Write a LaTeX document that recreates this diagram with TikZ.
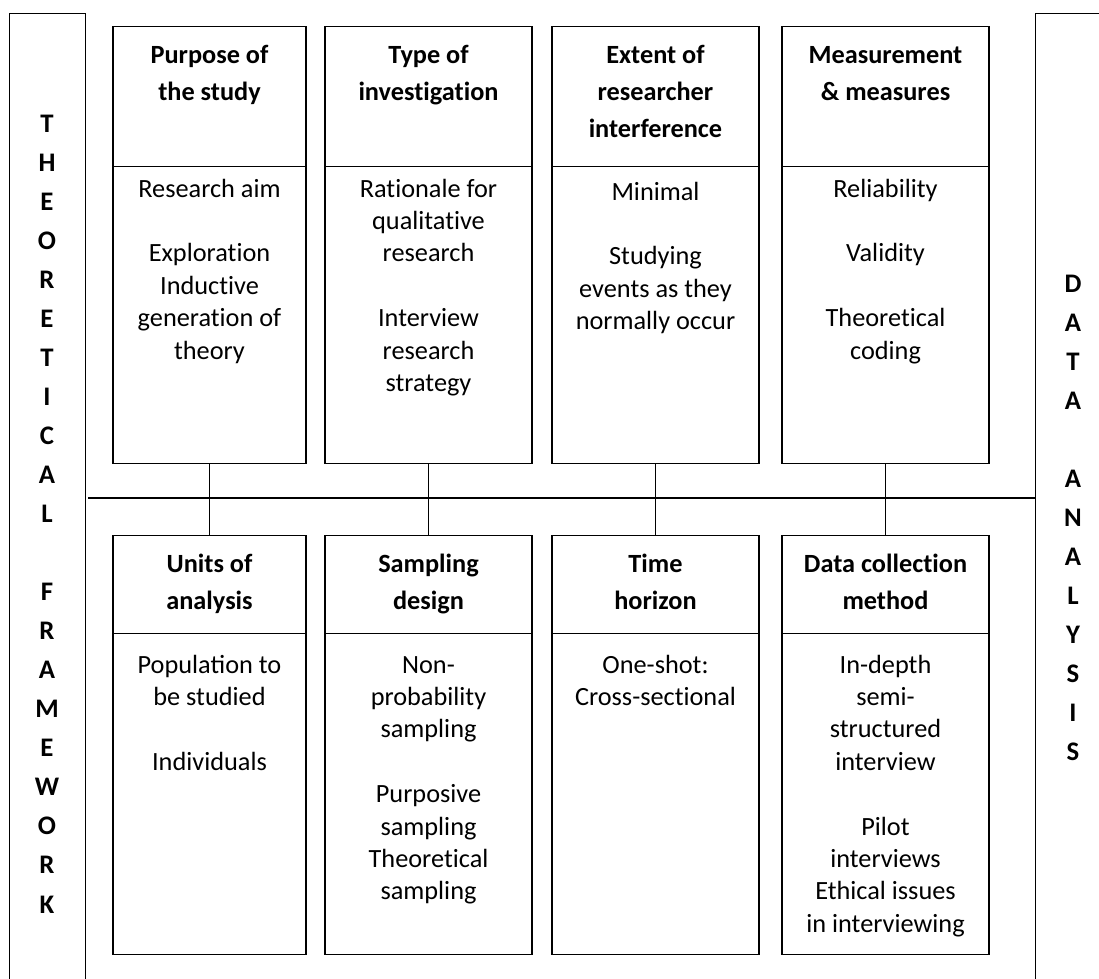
\documentclass[tikz,border=0pt]{standalone}
\usepackage{fontspec}
\setmainfont{Carlito}
% centred multi-line block whose baseline is the first line
\newcommand\stacklines[1]{\begin{tabular}[t]{@{}c@{}}#1\end{tabular}}
% t and i kept as two separate glyphs
\newcommand\tIx{t\kern0pt i}
\tikzset{
  frame/.style={draw, line width=1.4pt, inner sep=0pt},
  conn/.style={line width=1.4pt},
  headtxt/.style={anchor=base, inner sep=0pt, font=\fontsize{26.3}{37}\selectfont\bfseries},
  bodytxt/.style={anchor=base, inner sep=0pt, font=\fontsize{26.3}{32.4}\selectfont},
  sidetxt/.style={anchor=base, inner sep=0pt, font=\fontsize{26.8}{39.05}\selectfont\bfseries}
}
\begin{document}
\begin{tikzpicture}[x=1pt, y=-1pt]
\useasboundingbox (0,0) rectangle (1099,978);
\clip (0,0) rectangle (1099,978);

% side panels
\node[frame, anchor=north west, minimum width=76pt, minimum height=1000pt] (tf) at (9,13) {};
\node[frame, anchor=north west, minimum width=76pt, minimum height=1000pt] (da) at (1035,13) {};
\node[sidetxt] (tftxt) at (47,132) {\stacklines{T\\H\\E\\O\\R\\E\\T\\I\\C\\A\\L\\ \\F\\R\\A\\M\\E\\W\\O\\R\\K}};
\node[sidetxt] (datxt) at (1073,292) {\stacklines{D\\A\\T\\A\\ \\A\\N\\A\\L\\Y\\S\\I\\S}};

% boxes: header and body for the upper and lower rows
\foreach \c/\w [count=\i] in {209.5/193, 428.5/207, 655.5/207, 885.5/207} {
  \node[frame, anchor=north, minimum width=\w pt, minimum height=140pt] (th\i) at (\c,26) {};
  \node[frame, anchor=north, minimum width=\w pt, minimum height=297pt] (tb\i) at (\c,166) {};
  \node[frame, anchor=north, minimum width=\w pt, minimum height=98pt] (bh\i) at (\c,535) {};
  \node[frame, anchor=north, minimum width=\w pt, minimum height=321pt] (bb\i) at (\c,633) {};
}

% spine line and the links between the two rows
\coordinate (hl) at (88,498);
\draw[conn] (hl) -- (hl -| da.west);
\foreach \i in {1,...,4} {
  \draw[conn] (tb\i.south) -- (bh\i.north);
}

% upper row texts
\node[headtxt] (tht1) at (209.5,63) {\stacklines{Purpose of\\the study}};
\node[headtxt] (tht2) at (428.5,63) {\stacklines{Type of\\inves\tIx ga\tIx on}};
\node[headtxt] (tht3) at (655.5,63) {\stacklines{Extent of\\researcher\\interference}};
\node[headtxt] (tht4) at (885.5,63) {\stacklines{Measurement\\\& measures}};
\node[bodytxt] (tbt1) at (209.5,197) {\stacklines{Research aim\\ \\Explora\tIx on\\Induc\tIx ve\\genera\tIx on of\\theory}};
\node[bodytxt] (tbt2) at (428.5,197) {\stacklines{Ra\tIx onale for\\qualita\tIx ve\\research\\ \\Interview\\research\\strategy}};
\node[bodytxt] (tbt3) at (655.5,200) {\stacklines{Minimal\\ \\Studying\\events as they\\normally occur}};
\node[bodytxt] (tbt4) at (885.5,197) {\stacklines{Reliability\\ \\Validity\\ \\Theore\tIx cal\\coding}};

% lower row texts
\node[headtxt] (bht1) at (209.5,572) {\stacklines{Units of\\analysis}};
\node[headtxt] (bht2) at (428.5,572) {\stacklines{Sampling\\design}};
\node[headtxt] (bht3) at (655.5,572) {\stacklines{Time\\horizon}};
\node[headtxt] (bht4) at (885.5,572) {\stacklines{Data collec\tIx on\\method}};
\node[bodytxt] (bbt1) at (209.5,673) {\stacklines{Population to\\be studied\\ \\Individuals}};
\node[bodytxt] (bbt2) at (428.5,673) {\stacklines{Non-\\probability\\sampling\\ \\Purposive\\sampling\\Theore\tIx cal\\sampling}};
\node[bodytxt] (bbt3) at (655.5,673) {\stacklines{One-shot:\\Cross-sec\tIx onal}};
\node[bodytxt] (bbt4) at (885.5,673) {\stacklines{In-depth\\semi-\\structured\\interview\\ \\Pilot\\interviews\\Ethical issues\\in interviewing}};
\end{tikzpicture}
\end{document}
